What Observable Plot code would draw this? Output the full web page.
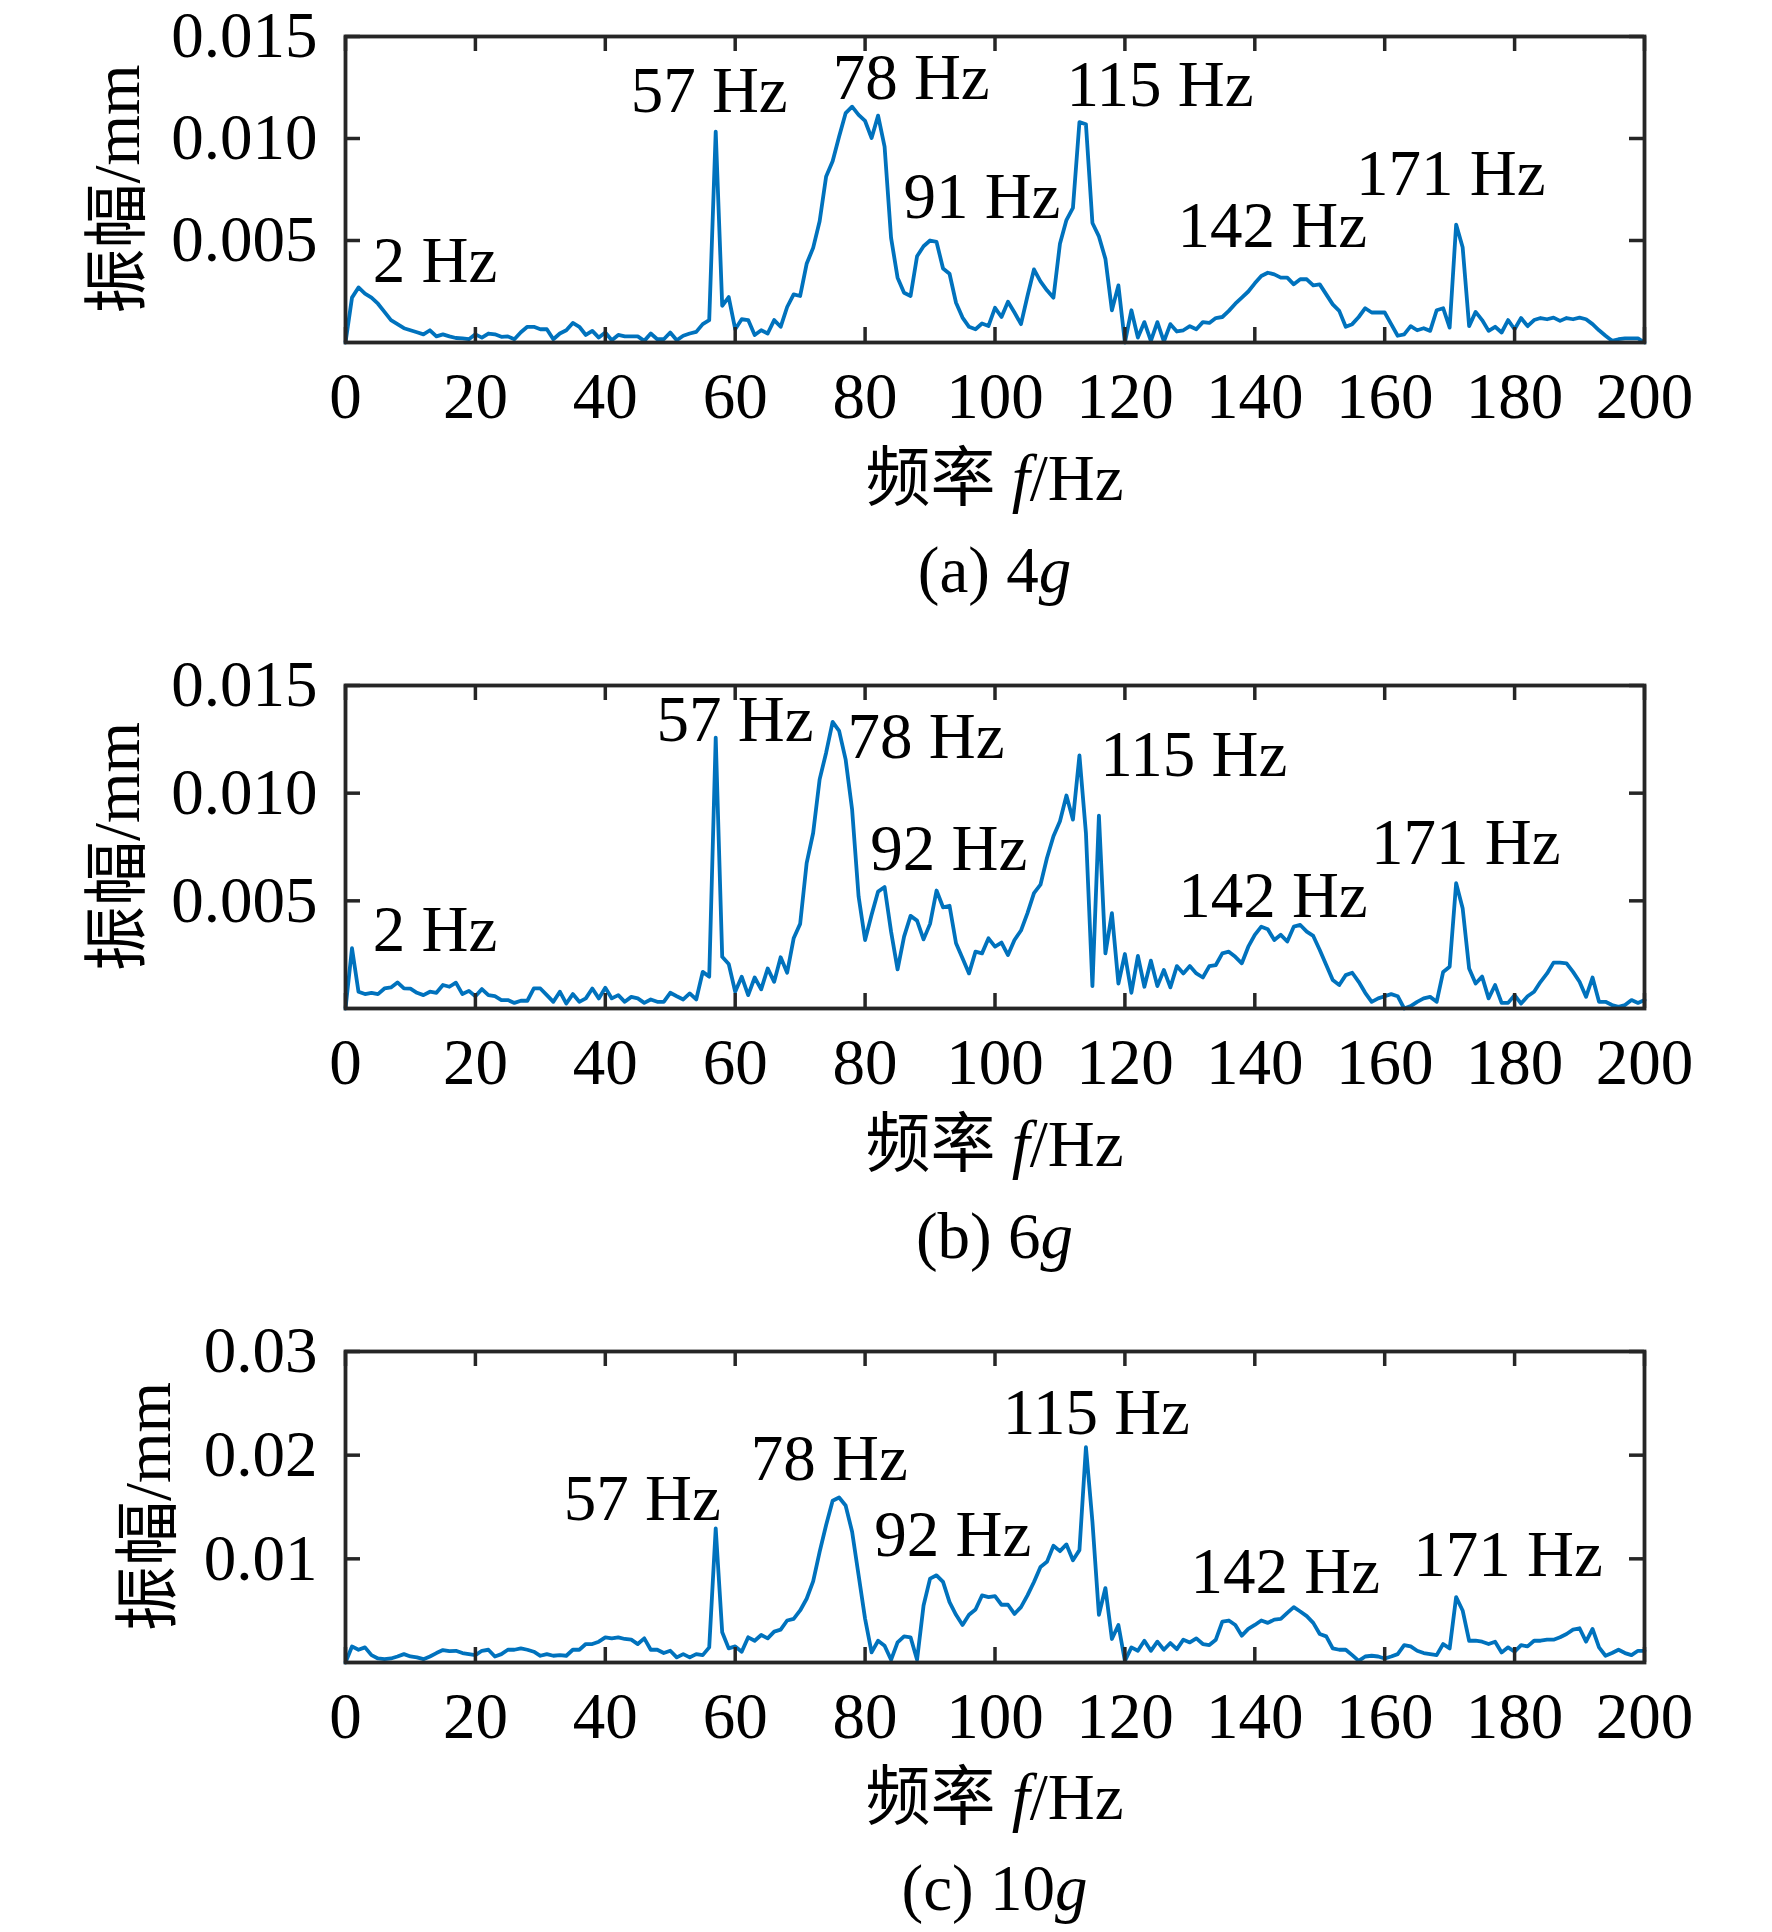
<!DOCTYPE html>
<html>
<head>
<meta charset="utf-8">
<script src="https://cdn.jsdelivr.net/npm/d3@7"></script>
<script src="https://cdn.jsdelivr.net/npm/@observablehq/plot@0.6"></script>
<style>
html, body { margin: 0; padding: 0; background: #fff; }
#root { position: relative; width: 1772px; height: 1932px; overflow: hidden; background: #fff; }
#root > svg { position: absolute; left: 0; }
</style>
</head>
<body>
<div id="root"></div>
<script>
// ---------- data ----------
const freq = [0,1,2,3,4,5,6,7,8,9,10,11,12,13,14,15,16,17,18,19,20,21,22,23,24,25,26,27,28,29,30,31,32,33,34,35,36,37,38,39,40,41,42,43,44,45,46,47,48,49,50,51,52,53,54,55,56,57,58,59,60,61,62,63,64,65,66,67,68,69,70,71,72,73,74,75,76,77,78,79,80,81,82,83,84,85,86,87,88,89,90,91,92,93,94,95,96,97,98,99,100,101,102,103,104,105,106,107,108,109,110,111,112,113,114,115,116,117,118,119,120,121,122,123,124,125,126,127,128,129,130,131,132,133,134,135,136,137,138,139,140,141,142,143,144,145,146,147,148,149,150,151,152,153,154,155,156,157,158,159,160,161,162,163,164,165,166,167,168,169,170,171,172,173,174,175,176,177,178,179,180,181,182,183,184,185,186,187,188,189,190,191,192,193,194,195,196,197,198,199,200];

const ampA = [0,0.0022,0.0027,0.0024,0.0022,0.0019,0.0015,0.0011,0.0009,0.0007,
0.0006,0.0005,0.0004,0.0006,0.0003,0.0004,0.0003,0.00022,0.0002,0.00016,
0.0004,0.00024,0.00044,0.0004,0.00028,0.0003,0.00016,0.0005,0.00077,0.00077,
0.00065,0.00065,0.00016,0.00044,0.0006,0.00096,0.00077,0.00037,0.00057,0.00024,
0.00049,0.00011,0.00037,0.0003,0.0003,0.0003,0.00008,0.00044,0.00016,0.00016,
0.00049,0.00011,0.00033,0.00044,0.00052,0.0009,0.0011,0.01034,0.0018,0.00223,
0.00065,0.00114,0.0011,0.00037,0.0006,0.00044,0.0011,0.00077,0.00174,0.00236,
0.00228,0.00386,0.00464,0.00594,0.00814,0.00888,0.0101,0.01124,0.01156,0.01116,
0.01086,0.01002,0.01112,0.0096,0.00513,0.00318,0.00244,0.00228,0.00423,0.00472,
0.005,0.00493,0.00363,0.00337,0.00195,0.00122,0.00077,0.00065,0.00093,0.00081,
0.0017,0.00125,0.002,0.00147,0.0009,0.00228,0.00358,0.003,0.00256,0.0022,
0.00484,0.006,0.0066,0.0108,0.0107,0.00586,0.0052,0.0041,0.00158,0.0028,
0,0.00158,0.00024,0.001,0.00008,0.001,0.00005,0.0009,0.00054,0.0006,
0.0008,0.00065,0.001,0.00096,0.0012,0.00125,0.00155,0.0019,0.0022,0.0025,
0.0029,0.00326,0.00342,0.00334,0.00318,0.00318,0.00285,0.0031,0.0031,0.0028,
0.00285,0.00236,0.00187,0.00155,0.00077,0.0009,0.00125,0.00168,0.00147,0.00147,
0.00147,0.0009,0.00033,0.0004,0.0008,0.0006,0.0007,0.00057,0.00158,0.00168,
0.00073,0.00578,0.00467,0.0008,0.0015,0.0011,0.00057,0.00077,0.00049,0.0011,
0.00065,0.0012,0.0008,0.0011,0.0012,0.00114,0.00122,0.00106,0.0012,0.00114,
0.00122,0.00114,0.0009,0.0006,0.00033,0.00008,0.00016,0.0002,0.0002,0.0002,
0];

const ampB = [0,0.0028,0.00078,0.00067,0.00073,0.00067,0.00093,0.00098,0.00121,0.00093,
0.00092,0.00073,0.00062,0.00078,0.00073,0.00109,0.00101,0.0012,0.00067,0.00082,
0.00057,0.0009,0.00062,0.00057,0.00039,0.00039,0.00026,0.00036,0.00036,0.00093,
0.00093,0.00062,0.00031,0.00078,0.00023,0.00067,0.00031,0.00047,0.00093,0.00047,
0.00096,0.00047,0.00062,0.00031,0.00054,0.00047,0.00026,0.00042,0.00031,0.00031,
0.00073,0.00057,0.00042,0.0007,0.00042,0.0017,0.00148,0.01258,0.0024,0.00207,
0.00078,0.00148,0.00062,0.00144,0.00089,0.00186,0.00124,0.00238,0.00166,0.00326,
0.00393,0.00675,0.00815,0.01064,0.01188,0.01331,0.01289,0.01157,0.00924,0.0052,
0.00318,0.00435,0.00543,0.00564,0.00357,0.00182,0.00334,0.0043,0.00408,0.00321,
0.00393,0.00548,0.0047,0.00477,0.00303,0.00233,0.00163,0.00264,0.00256,0.00326,
0.00287,0.00306,0.00248,0.00318,0.00362,0.00443,0.00536,0.00575,0.00699,0.008,
0.0087,0.00989,0.00877,0.01175,0.00815,0.00104,0.00896,0.00256,0.00443,0.00116,
0.00253,0.00073,0.00244,0.00101,0.00222,0.00104,0.00179,0.00098,0.00197,0.00163,
0.00197,0.00163,0.00144,0.00197,0.00202,0.00256,0.00264,0.0024,0.0021,0.00287,
0.00342,0.0038,0.00368,0.00318,0.00342,0.00311,0.0038,0.00388,0.00357,0.00337,
0.00272,0.00202,0.00132,0.00109,0.00155,0.00166,0.00124,0.00073,0.00031,0.00047,
0.00057,0.00067,0.00057,0,0.00011,0.00031,0.00047,0.00054,0.00031,0.0017,
0.00194,0.00582,0.00466,0.00186,0.00116,0.00148,0.00047,0.00109,0.00026,0.00026,
0.00062,0.00023,0.00057,0.00078,0.00124,0.00163,0.00213,0.00213,0.0021,0.0017,
0.00124,0.00054,0.00144,0.00031,0.00031,0.00016,0.00008,0.00016,0.00039,0.00026,
0.00039];

const ampC = [0,0.00155,0.00123,0.00146,0.00071,0.00039,0.00032,0.00039,0.00058,0.00081,
0.00058,0.00049,0.00032,0.00058,0.00091,0.0012,0.0011,0.00113,0.00091,0.00081,
0.00071,0.00113,0.00123,0.00058,0.00081,0.00123,0.00123,0.00136,0.00123,0.00104,
0.00065,0.00081,0.00065,0.00071,0.00065,0.00123,0.00123,0.00178,0.00178,0.00201,
0.00243,0.00233,0.00243,0.00227,0.0022,0.00178,0.00233,0.00123,0.00123,0.00091,
0.00113,0.00049,0.00081,0.00049,0.00081,0.00071,0.00146,0.01294,0.00291,0.00136,
0.00155,0.00104,0.00243,0.0021,0.00265,0.00233,0.00298,0.00317,0.00405,0.00421,
0.00502,0.00615,0.00783,0.01068,0.01327,0.0156,0.01592,0.01514,0.01262,0.00841,
0.00421,0.00097,0.0021,0.00162,0.00026,0.00194,0.00252,0.00243,0.00026,0.0055,
0.00809,0.00841,0.00777,0.00582,0.0046,0.00362,0.0046,0.00511,0.00647,0.00631,
0.00641,0.00557,0.00557,0.00469,0.00534,0.00647,0.00777,0.00922,0.00971,0.01126,
0.01074,0.01139,0.00987,0.01084,0.02078,0.01359,0.0046,0.00718,0.00227,0.00362,
0.00016,0.00146,0.00113,0.0021,0.00113,0.00201,0.00123,0.00188,0.00129,0.0022,
0.00194,0.00233,0.00178,0.00168,0.0022,0.00395,0.00405,0.00362,0.00259,0.00324,
0.00362,0.00405,0.00382,0.00414,0.00421,0.00479,0.00534,0.00492,0.00447,0.00382,
0.00275,0.00252,0.00136,0.00123,0.00123,0.00071,0.00016,0.00058,0.00065,0.00058,
0.00039,0.00058,0.00081,0.00168,0.00155,0.00113,0.00091,0.00081,0.00071,0.00178,
0.00136,0.00631,0.00502,0.0021,0.0021,0.00201,0.00178,0.00201,0.00097,0.00146,
0.00104,0.00168,0.00155,0.0021,0.0021,0.0022,0.0022,0.00243,0.00275,0.00317,
0.0033,0.00201,0.00324,0.00146,0.00065,0.00091,0.00123,0.00091,0.00071,0.00113,
0.00113];

const ticksX = [0,20,40,60,80,100,120,140,160,180,200];
const ticksYAB = [0.005,0.010,0.015];
const ticksYC = [0.01,0.02,0.03];

// peak annotations (text, and anchor in data units)
const peaksA = ["2 Hz","57 Hz","78 Hz","91 Hz","115 Hz","142 Hz","171 Hz"];
const peaksAx = [4.2, 43.9, 75.0, 85.9, 111.0, 128.1, 155.6];
const peaksAy = [0.00296, 0.01129, 0.01195, 0.00608, 0.01157, 0.00467, 0.00721];

const peaksB = ["2 Hz","57 Hz","78 Hz","92 Hz","115 Hz","142 Hz","171 Hz"];
const peaksBx = [4.2, 47.9, 77.3, 80.8, 116.2, 128.2, 157.9];
const peaksBy = [0.00269, 0.01241, 0.01161, 0.00641, 0.01082, 0.00427, 0.00673];

const peaksC = ["57 Hz","78 Hz","92 Hz","115 Hz","142 Hz","171 Hz"];
const peaksCx = [33.6, 62.4, 81.4, 101.2, 130.1, 164.4];
const peaksCy = [0.0137, 0.01756, 0.01032, 0.02209, 0.00675, 0.00839];

const yLabel = "振幅/mm";
const captions = ["(a) 4", "(b) 6", "(c) 10"];

// ---------- drawing ----------
const root = document.getElementById("root");
const FONT = "'Liberation Serif','Times New Roman','Noto Sans CJK SC',serif";
const FS = 65;
const AXIS = "#262626";
const LEFT = 345, RIGHT = 1644;

function panel(o) {
  const data = freq.map((f, i) => ({f, a: o.values[i]}));
  const fh = o.frameBottom - o.frameTop;
  const fw = RIGHT - LEFT;
  const tick = 15;
  const svg = Plot.plot({
    width: 1772,
    height: o.height,
    marginTop: o.frameTop - o.top,
    marginBottom: o.top + o.height - o.frameBottom,
    marginLeft: LEFT,
    marginRight: 1772 - RIGHT,
    x: {domain: [0, 200]},
    y: {domain: [0, o.yMax]},
    style: {fontFamily: FONT, fontSize: FS + "px", color: "#000", background: "transparent", overflow: "visible"},
    marks: [
      Plot.line(data, {x: "f", y: "a", stroke: "#0072BD", strokeWidth: 3.8, strokeLinejoin: "round"}),
      Plot.tickX(ticksX, {x: d => d, stroke: AXIS, strokeWidth: 3.5, insetTop: fh - tick}),
      Plot.tickX(ticksX, {x: d => d, stroke: AXIS, strokeWidth: 3.5, insetBottom: fh - tick}),
      Plot.tickY(o.yTicks, {y: d => d, stroke: AXIS, strokeWidth: 3.5, insetRight: fw - tick}),
      Plot.tickY(o.yTicks, {y: d => d, stroke: AXIS, strokeWidth: 3.5, insetLeft: fw - tick}),
      Plot.frame({stroke: AXIS, strokeWidth: 3.8}),
      Plot.axisX(ticksX, {tickSize: 0, tickPadding: 29, fontSize: FS, label: null, tickFormat: d => String(d)}),
      Plot.axisY(o.yTicks, {tickSize: 0, tickPadding: 28, fontSize: FS, label: null, tickFormat: d3.format(o.fmt)}),
      Plot.text(o.peaks, {x: o.px, y: o.py, text: d => d, textAnchor: "start", lineAnchor: "bottom", fontSize: FS, fill: "#000"})
    ]
  });
  svg.style.top = o.top + "px";
  root.appendChild(svg);
}

panel({top: 0, height: 440, frameTop: 36, frameBottom: 342, values: ampA, yMax: 0.015, yTicks: ticksYAB, fmt: ".3f", peaks: peaksA, px: peaksAx, py: peaksAy});
panel({top: 620, height: 470, frameTop: 685, frameBottom: 1008, values: ampB, yMax: 0.015, yTicks: ticksYAB, fmt: ".3f", peaks: peaksB, px: peaksBx, py: peaksBy});
panel({top: 1290, height: 460, frameTop: 1351, frameBottom: 1662, values: ampC, yMax: 0.03, yTicks: ticksYC, fmt: ".2f", peaks: peaksC, px: peaksCx, py: peaksCy});

// axis titles and sub-captions
const ov = d3.select(root).append("svg")
  .attr("width", 1772).attr("height", 1932)
  .style("top", "0px").style("pointer-events", "none")
  .style("font-family", FONT).style("font-size", FS + "px");

const cx = (LEFT + RIGHT) / 2;
const layout = [
  {yl: 139, yc: 189, xb: 500, cb: 592},
  {yl: 139, yc: 846.5, xb: 1166, cb: 1258},
  {yl: 170, yc: 1506.5, xb: 1819, cb: 1910}
];
layout.forEach((L, i) => {
  ov.append("text")
    .attr("transform", `translate(${L.yl},${L.yc}) rotate(-90)`)
    .attr("text-anchor", "middle").attr("fill", "#000")
    .text(yLabel);
  const xt = ov.append("text").attr("x", cx).attr("y", L.xb).attr("text-anchor", "middle").attr("fill", "#000");
  xt.append("tspan").text("频率 ");
  xt.append("tspan").attr("font-style", "italic").text("f");
  xt.append("tspan").text("/Hz");
  const ct = ov.append("text").attr("x", cx).attr("y", L.cb).attr("text-anchor", "middle").attr("fill", "#000");
  ct.append("tspan").text(captions[i]);
  ct.append("tspan").attr("font-style", "italic").text("g");
});
</script>
</body>
</html>
